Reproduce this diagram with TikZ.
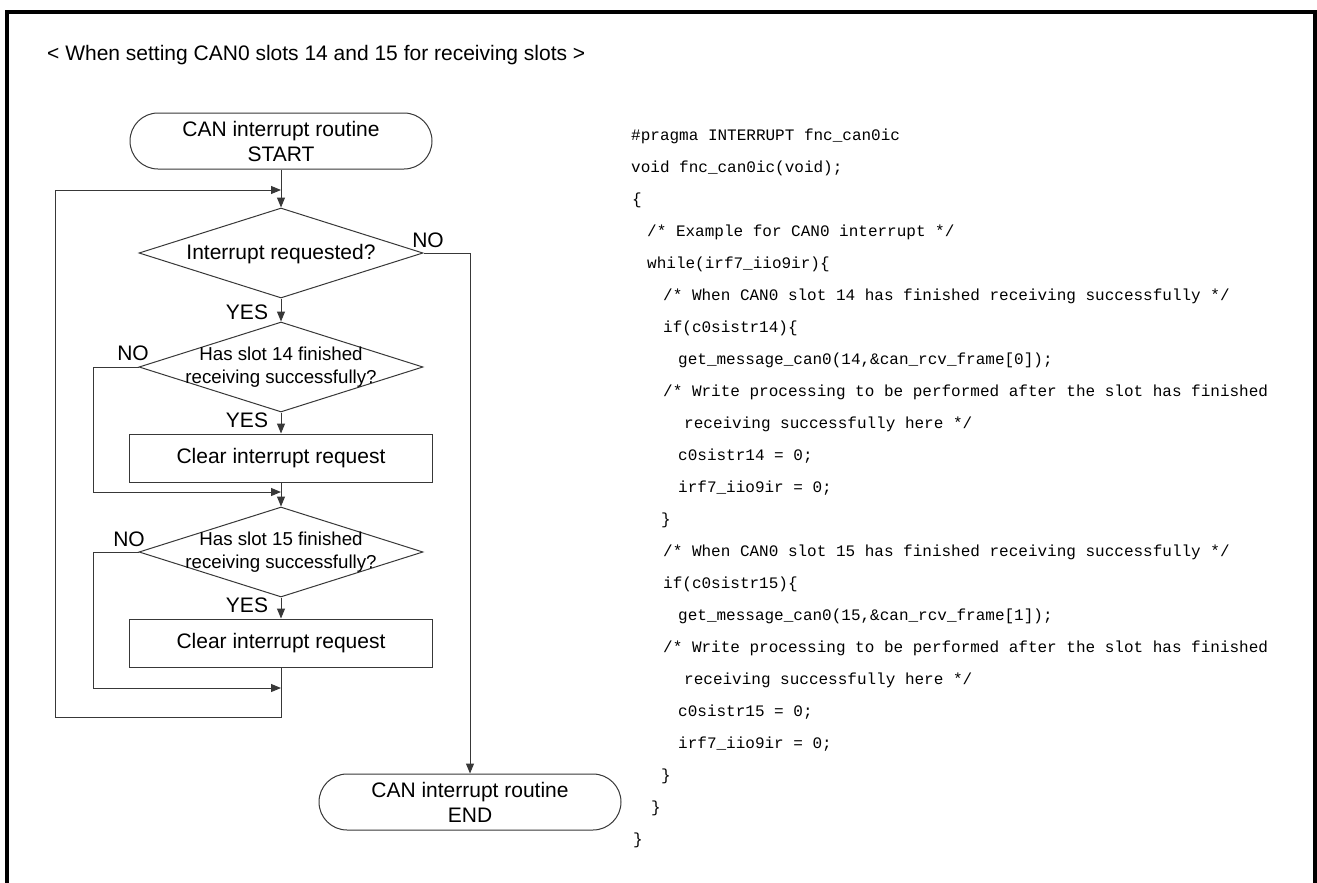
\documentclass[tikz,border=0pt]{standalone}
\usepackage{fontspec}
\setmainfont{Liberation Sans}
\newfontfamily\codefont{Liberation Mono}
\usetikzlibrary{shapes.geometric,arrows.meta}
\begin{document}
\begin{tikzpicture}[x=1pt,y=-1pt,
  lnc/.style={draw=black!78,line width=1pt},
  arr/.style={lnc,-{Triangle[length=10pt,width=8pt]}},
  term/.style={lnc,rectangle,rounded corners=28pt,minimum width=302pt,minimum height=56pt,inner sep=1pt,align=center,font=\fontsize{21}{25}\selectfont},
  procbox/.style={lnc,rectangle,minimum width=303pt,minimum height=48pt,inner sep=1pt,font=\fontsize{21}{25}\selectfont},
  dia/.style={lnc,diamond,shape aspect=3.16,minimum width=284pt,minimum height=90pt,inner sep=0pt},
  dtext/.style={align=center,inner sep=0pt,font=\fontsize{18.7}{23}\selectfont},
  lbl/.style={inner sep=0pt,font=\fontsize{21}{25}\selectfont},
  code/.style={anchor=base west,inner sep=0pt,font=\codefont\fontsize{16}{18}\selectfont}
]
\useasboundingbox (0,0) rectangle (1317,883);
\fill[white] (0,0) rectangle (1317,883);
\draw[line width=4pt] (7,883) -- (7,12) -- (1315,12) -- (1315,883);

\node[anchor=base west,inner sep=0pt,font=\fontsize{21}{25}\selectfont] (title) at (47,61) {< When setting CAN0 slots 14 and 15 for receiving slots >};

% flowchart
\node[term] (start) at (281,141) {CAN interrupt routine\\START};
\node[dia] (d1) at (281,253) {};
\node[dtext,font=\fontsize{21}{25}\selectfont] (d1t) at (281,254) {Interrupt requested?};
\node[dia] (d2) at (281,367) {};
\node[dtext] (d2t) at (281,367) {Has slot 14 finished\\receiving successfully?};
\node[procbox] (box1) at (281,458) {Clear interrupt request};
\node[dia] (d3) at (281,552) {};
\node[dtext] (d3t) at (281,552) {Has slot 15 finished\\receiving successfully?};
\node[procbox] (box2) at (281,643) {Clear interrupt request};
\node[term] (endt) at (470,802) {CAN interrupt routine\\END};

\node[lbl] (no1) at (428,240) {NO};
\node[lbl] (yes1) at (247,312) {YES};
\node[lbl] (no2) at (133,353) {NO};
\node[lbl] (yes2) at (247,420) {YES};
\node[lbl] (no3) at (129,539) {NO};
\node[lbl] (yes3) at (247,605) {YES};

\coordinate (j1) at (281,190);
\coordinate (j2) at (281,492);
\coordinate (j3) at (281,688);
\coordinate (ob) at (281,717);
\coordinate (ol) at (55,717);
\coordinate (ot) at (55,190);
\coordinate (nr) at (470,253);
\coordinate (n2a) at (93,367);
\coordinate (n2b) at (93,492);
\coordinate (n3a) at (93,552);
\coordinate (n3b) at (93,688);

\draw[arr] (start.south) -- (d1.north);
\draw[arr] (box2.south) -- (ob) -- (ol) -- (ot) -- (j1);
\draw[arr] (d1.east) -- (nr) -- (endt.north);
\draw[arr] (d1.south) -- (d2.north);
\draw[arr] (d2.west) -- (n2a) -- (n2b) -- (j2);
\draw[arr] (d2.south) -- (box1.north);
\draw[arr] (box1.south) -- (d3.north);
\draw[arr] (d3.west) -- (n3a) -- (n3b) -- (j3);
\draw[arr] (d3.south) -- (box2.north);

% code
\node[code] (c1) at (631,140) {\#pragma INTERRUPT fnc\_can0ic};
\node[code] (c2) at (631,172) {void fnc\_can0ic(void);};
\node[code] (c3) at (632,204) {\{};
\node[code] (c4) at (647,236) {/* Example for CAN0 interrupt */};
\node[code] (c5) at (647,268) {while(irf7\_iio9ir)\{};
\node[code] (c6) at (663,300) {/* When CAN0 slot 14 has finished receiving successfully */};
\node[code] (c7) at (663,332) {if(c0sistr14)\{};
\node[code] (c8) at (678,364) {get\_message\_can0(14,\&can\_rcv\_frame[0]);};
\node[code] (c9) at (663,396) {/* Write processing to be performed after the slot has finished};
\node[code] (c10) at (684,428) {receiving successfully here */};
\node[code] (c11) at (678,460) {c0sistr14 = 0;};
\node[code] (c12) at (678,492) {irf7\_iio9ir = 0;};
\node[code] (c13) at (661,524) {\}};
\node[code] (c14) at (663,556) {/* When CAN0 slot 15 has finished receiving successfully */};
\node[code] (c15) at (663,588) {if(c0sistr15)\{};
\node[code] (c16) at (678,620) {get\_message\_can0(15,\&can\_rcv\_frame[1]);};
\node[code] (c17) at (663,652) {/* Write processing to be performed after the slot has finished};
\node[code] (c18) at (684,684) {receiving successfully here */};
\node[code] (c19) at (678,716) {c0sistr15 = 0;};
\node[code] (c20) at (678,748) {irf7\_iio9ir = 0;};
\node[code] (c21) at (661,780) {\}};
\node[code] (c22) at (651,812) {\}};
\node[code] (c23) at (633,844) {\}};
\end{tikzpicture}
\end{document}
